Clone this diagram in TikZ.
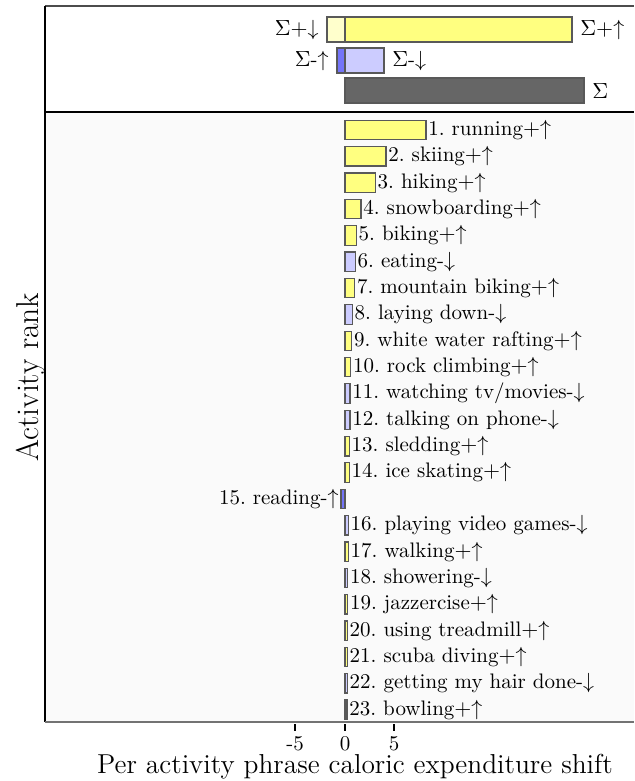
\documentclass[tikz,border=0pt]{standalone}
\usepackage{fontspec}
\usepackage{amsmath, amssymb}
\usetikzlibrary{positioning}
\frenchspacing

\definecolor{plusup}{HTML}{FFFF80}
\definecolor{plusdown}{HTML}{FFFFCC}
\definecolor{minusdown}{HTML}{CCCCFF}
\definecolor{minusup}{HTML}{7474F8}
\definecolor{sumgray}{HTML}{666666}

\begin{document}
\begin{tikzpicture}[x=0.5pt,y=-0.5pt]
\useasboundingbox (0,0) rectangle (634,781);
\tikzstyle{upbar}=[draw=black!65,line width=0.6pt,fill=plusup]
\tikzstyle{downbar}=[draw=black!65,line width=0.6pt,fill=minusdown]
\tikzstyle{rowlabel}=[font=\fontsize{10.5}{12}\selectfont,inner sep=1pt,anchor=west]
\tikzstyle{sumlabel}=[font=\fontsize{10.5}{12}\selectfont,inner sep=4pt]
\tikzstyle{ticklabel}=[font=\fontsize{10.5}{12}\selectfont,inner sep=0pt,anchor=base]
\tikzstyle{axistext}=[inner sep=0pt,anchor=base]

% panels
\fill[black!2] (45,112) rectangle (634,722);
\draw[black!70,line width=0.7pt] (45,6) -- (634,6);
\draw[line width=1pt] (45,112) -- (634,112);
\draw[line width=0.8pt] (45,6) -- (45,722);

% summary bars
\draw[upbar,fill=plusdown] (327,17) rectangle (345,42);
\draw[upbar] (345,17) rectangle (572,42);
\draw[downbar,fill=minusup] (337,48) rectangle (345,73);
\draw[downbar] (345,48) rectangle (384,73);
\draw[draw=black!65,line width=0.6pt,fill=sumgray] (345,78) rectangle (584,103);

\node[sumlabel,anchor=east] (sumplusdown) at (327,30) {$\Sigma{+}{\downarrow}$};
\node[sumlabel,anchor=west] (sumplusup) at (572,30) {$\Sigma{+}{\uparrow}$};
\node[sumlabel,anchor=east] (summinusup) at (337,61) {$\Sigma$-$\uparrow$};
\node[sumlabel,anchor=west] (summinusdown) at (384,61) {$\Sigma$-$\downarrow$};
\node[sumlabel,anchor=west] (sumtotal) at (584,91) {$\Sigma$};

% activity bars
\draw[upbar] (345,120.3) rectangle (426,139.7);
\draw[upbar] (345,146.6) rectangle (386,166.0);
\draw[upbar] (345,173.0) rectangle (375.3,192.4);
\draw[upbar] (345,199.3) rectangle (361,218.7);
\draw[upbar] (345,225.7) rectangle (356.3,245.1);
\draw[downbar] (345,252.0) rectangle (355.3,271.4);
\draw[upbar] (345,278.4) rectangle (354.7,297.8);
\draw[downbar] (345,304.7) rectangle (352.3,324.1);
\draw[upbar] (345,331.1) rectangle (351.7,350.5);
\draw[upbar] (345,357.4) rectangle (350.7,376.8);
\draw[downbar] (345,383.8) rectangle (350,403.2);
\draw[downbar] (345,410.1) rectangle (350,429.5);
\draw[upbar] (345,436.5) rectangle (349.3,455.9);
\draw[upbar] (345,462.8) rectangle (349.3,482.2);
\draw[downbar,fill=minusup] (341,489.2) rectangle (345,508.6);
\draw[downbar] (345,515.5) rectangle (348.3,534.9);
\draw[upbar] (345,541.9) rectangle (348.3,561.3);
\draw[downbar] (345,568.2) rectangle (347.7,587.6);
\draw[upbar] (345,594.6) rectangle (347.7,614.0);
\draw[upbar] (345,620.9) rectangle (347.3,640.3);
\draw[upbar] (345,647.3) rectangle (347.3,666.7);
\draw[downbar] (345,673.6) rectangle (347.3,693.0);
\draw[upbar] (345,700.0) rectangle (347,719.4);

% activity labels
\node[rowlabel] (running) at (426,130) {1. running${+}{\uparrow}$};
\node[rowlabel] (skiing) at (386,156.3) {2. skiing${+}{\uparrow}$};
\node[rowlabel] (hiking) at (375.3,182.7) {3. hiking${+}{\uparrow}$};
\node[rowlabel] (snowboarding) at (361,209) {4. snowboarding${+}{\uparrow}$};
\node[rowlabel] (biking) at (356.3,235.4) {5. biking${+}{\uparrow}$};
\node[rowlabel] (eating) at (355.3,261.7) {6. eating-$\downarrow$};
\node[rowlabel] (mountainbiking) at (354.7,288.1) {7. mountain biking${+}{\uparrow}$};
\node[rowlabel] (layingdown) at (352.3,314.4) {8. laying down-$\downarrow$};
\node[rowlabel] (rafting) at (351.7,340.8) {9. white water rafting${+}{\uparrow}$};
\node[rowlabel] (climbing) at (350.7,367.1) {10. rock climbing${+}{\uparrow}$};
\node[rowlabel] (tv) at (350,393.5) {11. watching tv/movies-$\downarrow$};
\node[rowlabel] (phone) at (350,419.8) {12. talking on phone-$\downarrow$};
\node[rowlabel] (sledding) at (349.3,446.2) {13. sledding${+}{\uparrow}$};
\node[rowlabel] (iceskating) at (349.3,472.5) {14. ice skating${+}{\uparrow}$};
\node[rowlabel,anchor=east] (reading) at (341,498.9) {15. reading-$\uparrow$};
\node[rowlabel] (videogames) at (348.3,525.2) {16. playing video games-$\downarrow$};
\node[rowlabel] (walking) at (348.3,551.6) {17. walking${+}{\uparrow}$};
\node[rowlabel] (showering) at (347.7,577.9) {18. showering-$\downarrow$};
\node[rowlabel] (jazzercise) at (347.7,604.3) {19. jazzercise${+}{\uparrow}$};
\node[rowlabel] (treadmill) at (347.3,630.6) {20. using treadmill${+}{\uparrow}$};
\node[rowlabel] (scuba) at (347.3,657) {21. scuba diving${+}{\uparrow}$};
\node[rowlabel] (hairdone) at (347.3,683.3) {22. getting my hair done-$\downarrow$};
\node[rowlabel] (bowling) at (347,709.7) {23. bowling${+}{\uparrow}$};

% axis
\draw[black!55,line width=1pt] (45,722) -- (634,722);
\draw[line width=0.7pt] (295,724) -- (295,731);
\draw[line width=0.7pt] (345,724) -- (345,731);
\draw[line width=0.7pt] (394,724) -- (394,731);
\node[ticklabel] (tickminus) at (295,750) {-5};
\node[ticklabel] (tickzero) at (345,750) {0};
\node[ticklabel] (tickplus) at (394,750) {5};
\node[axistext,font=\fontsize{13.7}{15}\selectfont] (xlabel) at (355,773) {Per activity phrase caloric expenditure shift};
\node[axistext,font=\fontsize{15.8}{18}\selectfont,rotate=90] (ylabel) at (38,377) {Activity rank};

\end{tikzpicture}
\end{document}
